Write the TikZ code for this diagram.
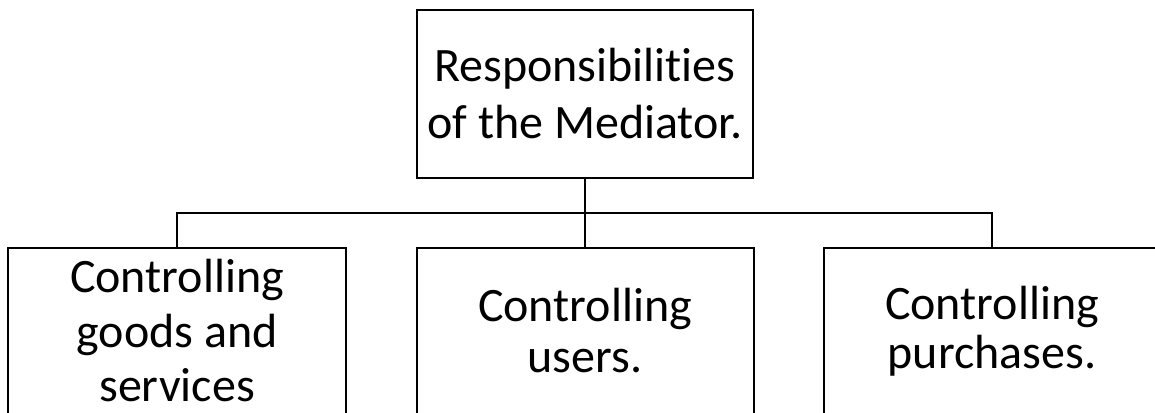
\documentclass[tikz,border=0pt]{standalone}
\usepackage{fontspec}
\setmainfont{Carlito}[Ligatures={NoCommon,NoContextual,NoRare,NoDiscretionary}]
\begin{document}
\begin{tikzpicture}[x=1pt,y=-1pt,
  boxstyle/.style={draw=black, line width=2pt, fill=white, align=center, inner sep=0pt},
  conn/.style={draw=black, line width=2pt}]
\useasboundingbox (0,0) rectangle (1155,412);
\clip (0,0) rectangle (1155,412);
\fill[white] (0,0) rectangle (1155,412);
\node[boxstyle, minimum width=336pt, minimum height=168pt, font={\fontsize{48}{57}\selectfont}] (top) at (585,94) {Responsibilities\\of the Mediator.};
\node[boxstyle, minimum width=338pt, minimum height=166pt, font={\fontsize{48}{54.5}\selectfont}] (left) at (177,331) {Controlling\\goods and\\services};
\node[boxstyle, minimum width=337pt, minimum height=166pt, font={\fontsize{48}{51}\selectfont}] (mid) at (585,331) {Controlling\\users.};
\node[boxstyle, minimum width=336pt, minimum height=166pt, font={\fontsize{48}{49}\selectfont}] (right) at (992,331) {Controlling\\purchases.};
\coordinate (j) at (585,213);
\draw[conn] (top.south) -- (j);
\draw[conn] (j) -- (mid.north);
\draw[conn] (j) -| (left.north);
\draw[conn] (j) -| (right.north);
\end{tikzpicture}
\end{document}
